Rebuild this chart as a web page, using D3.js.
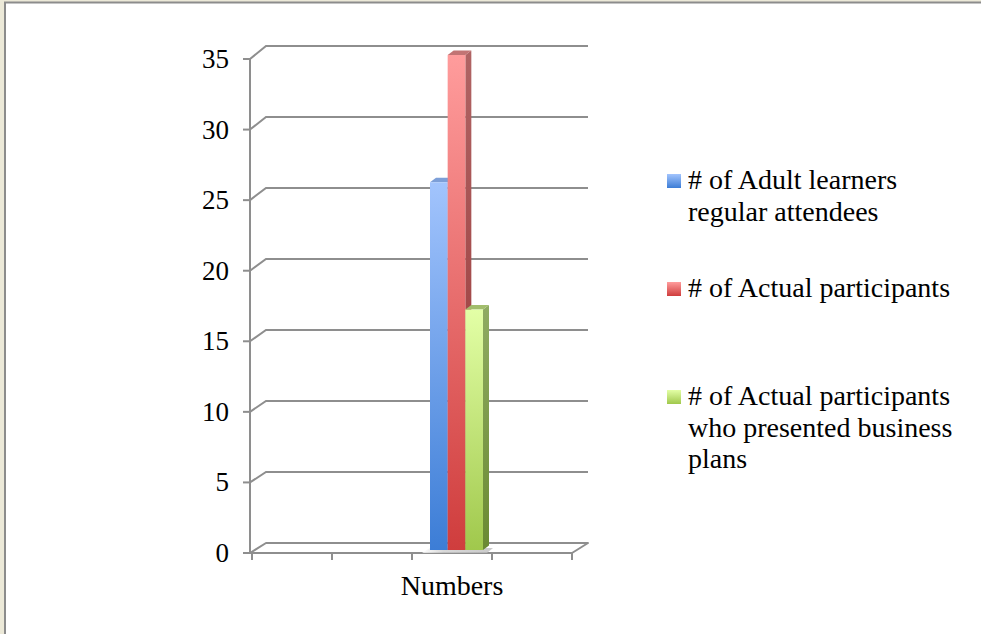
<!DOCTYPE html>
<html>
<head>
<meta charset="utf-8">
<script src="https://cdn.jsdelivr.net/npm/d3@7"></script>
<style>
  html, body { margin: 0; padding: 0; background: #ece9d8; }
  svg { display: block; }
  text { font-family: "Liberation Serif", "Times New Roman", serif; fill: #000; }
</style>
</head>
<body>
<svg id="chart" width="981" height="634"></svg>
<script>
// ---- data ----
const categories = ["Numbers"];
const seriesNames = [
  "# of Adult learners regular attendees",
  "# of Actual participants",
  "# of Actual participants who presented business plans"
];
const seriesValues = [26, 35, 17];
const legendLines = [
  ["# of Adult learners", "regular attendees"],
  ["# of Actual participants"],
  ["# of Actual participants", "who presented business", "plans"]
];
const yTicks = [0, 5, 10, 15, 20, 25, 30, 35];

// face colours per series: front gradient (top, bottom), side gradient, top face
const frontTop = ["#a2c4fd", "#ff9c9c", "#e3ffa6"];
const frontBottom = ["#3c7dd6", "#cf3d3d", "#a0c84c"];
const sideTop = ["#6f93cc", "#b06464", "#8fab62"];
const sideBottom = ["#2d5ea4", "#973030", "#6a8a32"];
const topFace = ["#7d9fd8", "#c27474", "#a2bd6c"];

const svg = d3.select("#chart");
const defs = svg.append("defs");

// white chart area with its grey frame
svg.append("rect").attr("x", 5).attr("y", 2.5).attr("width", 990).attr("height", 650)
  .attr("fill", "#fff").attr("stroke", "#8c8c8c").attr("stroke-width", 2);

// ---- scales ----
const yFront = d3.scaleLinear().domain([0, 35]).range([553, 59]);
const yBack = d3.scaleLinear().domain([0, 35]).range([543, 46]);
const yBar = d3.scaleLinear().domain([0, 35]).range([550, 55]);
const xAxis = d3.scaleLinear().domain([0, 4]).range([252, 572]);
const depthX = 16;          // offset from front plane to back wall
const barDepth = { dx: 6, dy: -4.5 };

const gridColor = "#8e8e8e";

// back wall gridlines plus left-wall diagonals
const grid = svg.append("g");
yTicks.forEach(v => {
  if (v === 0) return;
  grid.append("path")
    .attr("d", `M250,${yFront(v)}L${250 + depthX},${yBack(v)}H588`)
    .attr("fill", "none").attr("stroke", gridColor).attr("stroke-width", 2);
});

// floor
grid.append("path")
  .attr("d", `M250,${yFront(0)}H${xAxis(4)}L588,${yBack(0)}H${250 + depthX}Z`)
  .attr("fill", "#fff").attr("stroke", gridColor).attr("stroke-width", 2)
  .attr("stroke-linejoin", "round");

// vertical axis line and ticks
svg.append("line").attr("x1", 250).attr("x2", 250)
  .attr("y1", yFront(35)).attr("y2", yFront(0))
  .attr("stroke", gridColor).attr("stroke-width", 2);
svg.append("g").selectAll("line").data(yTicks).join("line")
  .attr("x1", 243).attr("x2", 250)
  .attr("y1", d => yFront(d)).attr("y2", d => yFront(d))
  .attr("stroke", gridColor).attr("stroke-width", 2);
svg.append("g").selectAll("text").data(yTicks).join("text")
  .attr("x", 229).attr("y", d => yFront(d) + 9)
  .attr("text-anchor", "end").attr("font-size", 27)
  .text(d => d);

// horizontal axis ticks
svg.append("g").selectAll("line").data(d3.range(0, 5)).join("line")
  .attr("x1", d => xAxis(d)).attr("x2", d => xAxis(d))
  .attr("y1", yFront(0)).attr("y2", yFront(0) + 7)
  .attr("stroke", gridColor).attr("stroke-width", 2);

// category label
const catPos = d3.scalePoint().domain(["", "", ""].concat(categories)).range([xAxis(0.5), xAxis(2.5)]);
svg.append("text")
  .attr("x", catPos(categories[0])).attr("y", 595)
  .attr("text-anchor", "middle").attr("font-size", 28)
  .text(categories[0]);

// ---- bars ----
const groupCenter = catPos(categories[0]) + 4.5;
const xBar = d3.scaleBand().domain(seriesNames)
  .range([groupCenter - 26.5, groupCenter + 26.5]).padding(0);

seriesNames.forEach((s, i) => {
  const gf = defs.append("linearGradient").attr("id", "front" + i)
    .attr("x1", 0).attr("y1", 0).attr("x2", 0).attr("y2", 1);
  gf.append("stop").attr("offset", 0).attr("stop-color", frontTop[i]);
  gf.append("stop").attr("offset", 1).attr("stop-color", frontBottom[i]);
  const gs = defs.append("linearGradient").attr("id", "side" + i)
    .attr("x1", 0).attr("y1", 0).attr("x2", 0).attr("y2", 1);
  gs.append("stop").attr("offset", 0).attr("stop-color", sideTop[i]);
  gs.append("stop").attr("offset", 1).attr("stop-color", sideBottom[i]);
});

// soft shadow under the bars
const sh = defs.append("linearGradient").attr("id", "shadow")
  .attr("x1", 0).attr("y1", 0).attr("x2", 1).attr("y2", 0);
sh.append("stop").attr("offset", 0).attr("stop-color", "#ffffff");
sh.append("stop").attr("offset", 0.3).attr("stop-color", "#cfcfcf");
sh.append("stop").attr("offset", 1).attr("stop-color", "#bdbdbd");
const x0 = xBar(seriesNames[0]), x1 = xBar(seriesNames[2]) + xBar.bandwidth();
svg.append("path")
  .attr("d", `M${x0 - 8},${yBar(0) + 3}H${x1 + 4}L${x1 + barDepth.dx + 4},${yBar(0) - 2}H${x0}Z`)
  .attr("fill", "url(#shadow)").attr("opacity", 0.8);

const bars = svg.append("g");
seriesNames.forEach((s, i) => {
  const v = seriesValues[i];
  const bx = xBar(s), bw = xBar.bandwidth();
  const top = yBar(v), bottom = yBar(0);
  const g = bars.append("g");
  // side face
  g.append("path")
    .attr("d", `M${bx + bw},${top}L${bx + bw + barDepth.dx},${top + barDepth.dy}V${bottom + barDepth.dy}L${bx + bw},${bottom}Z`)
    .attr("fill", `url(#side${i})`);
  // top face
  g.append("path")
    .attr("d", `M${bx},${top}L${bx + barDepth.dx},${top + barDepth.dy}H${bx + bw + barDepth.dx}L${bx + bw},${top}Z`)
    .attr("fill", topFace[i]);
  // front face
  g.append("rect")
    .attr("x", bx).attr("y", top).attr("width", bw).attr("height", bottom - top)
    .attr("fill", `url(#front${i})`);
});

// ---- legend ----
const legendY = d3.scalePoint().domain(seriesNames).range([189, 405]);
const legend = svg.append("g");
seriesNames.forEach((s, i) => {
  const gl = defs.append("linearGradient").attr("id", "leg" + i)
    .attr("x1", 0).attr("y1", 0).attr("x2", 0).attr("y2", 1);
  gl.append("stop").attr("offset", 0).attr("stop-color", frontTop[i]);
  gl.append("stop").attr("offset", 1).attr("stop-color", frontBottom[i]);
  const by = legendY(s);
  legend.append("rect").attr("x", 667).attr("y", by - 15).attr("width", 14).attr("height", 14)
    .attr("fill", `url(#leg${i})`);
  legend.append("text").attr("font-size", 28)
    .selectAll("tspan").data(legendLines[i]).join("tspan")
    .attr("x", 688).attr("y", (d, k) => by + k * 31.5)
    .text(d => d);
});
</script>
</body>
</html>
